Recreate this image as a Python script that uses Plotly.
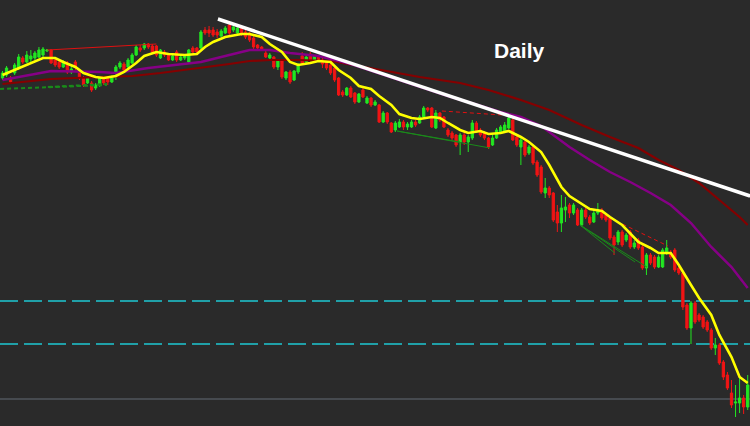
import plotly.graph_objects as go

# ---------------- data (price units) ----------------
idx = list(range(185))

opens = [
    348, 351, 348, 353, 358, 368, 364, 367, 368, 369,
    371, 375, 376, 366, 364, 359, 363, 354, 364, 354,
    348, 343, 343, 338, 341, 348, 348, 344, 353, 359,
    362, 359, 363, 371, 378, 378, 382, 380, 380, 368,
    374, 371, 366, 374, 366, 368, 364, 378, 378, 378,
    396, 396, 396, 394, 390, 393, 401, 396, 393, 398,
    394, 393, 388, 381, 379, 373, 368, 369, 359, 365,
    348, 354, 346, 354, 370, 364, 372, 366, 369, 366,
    364, 361, 358, 348, 334, 331, 338, 333, 324, 336,
    323, 328, 321, 321, 304, 313, 303, 296, 299, 304,
    299, 299, 304, 303, 309, 318, 318, 298, 313, 309,
    296, 293, 291, 284, 291, 284, 288, 303, 296, 293,
    288, 281, 288, 294, 294, 298, 306, 289, 279, 284,
    273, 279, 264, 259, 233, 238, 233, 214, 203, 216,
    221, 213, 216, 201, 216, 209, 204, 213, 216, 211,
    208, 189, 184, 194, 186, 194, 179, 186, 179, 158,
    171, 169, 159, 159, 173, 173, 176, 158, 153, 121,
    98, 123, 111, 109, 104, 96, 78, 81, 64, 51,
    33, 23, 23, 28, 19,
]
highs = [
    355, 360, 350, 363, 372, 370, 375, 376, 375, 379,
    379, 377, 377, 368, 366, 366, 365, 360, 366, 356,
    350, 349, 345, 343, 350, 350, 350, 351, 361, 365,
    364, 368, 373, 381, 381, 383, 383, 382, 381, 377,
    376, 373, 372, 376, 371, 372, 377, 380, 379, 396,
    399, 400, 399, 397, 397, 400, 402, 401, 400, 400,
    396, 394, 390, 382, 380, 375, 373, 370, 367, 366,
    355, 356, 356, 363, 374, 370, 374, 371, 370, 368,
    366, 363, 359, 349, 336, 339, 340, 334, 333, 338,
    330, 329, 326, 322, 315, 314, 304, 305, 307, 306,
    304, 306, 306, 311, 320, 319, 319, 316, 314, 310,
    298, 295, 292, 293, 294, 291, 306, 305, 298, 295,
    289, 291, 298, 301, 304, 310, 309, 290, 288, 285,
    281, 280, 266, 261, 248, 240, 234, 221, 231, 229,
    223, 223, 218, 218, 218, 211, 216, 223, 218, 213,
    210, 191, 196, 196, 193, 196, 186, 188, 181, 173,
    173, 171, 171, 178, 186, 176, 178, 160, 155, 123,
    125, 125, 113, 111, 106, 98, 88, 83, 66, 54,
    46, 41, 48, 31, 51,
]
lows = [
    346, 349, 342, 351, 356, 362, 363, 364, 366, 368,
    369, 374, 362, 359, 357, 358, 352, 352, 356, 346,
    339, 342, 334, 336, 339, 341, 341, 343, 346, 357,
    354, 358, 362, 370, 374, 376, 377, 372, 369, 367,
    369, 365, 365, 364, 365, 366, 363, 373, 372, 377,
    391, 389, 389, 388, 389, 392, 391, 394, 392, 390,
    387, 384, 377, 376, 375, 368, 366, 357, 356, 347,
    346, 342, 345, 352, 362, 362, 365, 364, 364, 358,
    356, 351, 344, 330, 329, 330, 328, 322, 323, 328,
    322, 319, 320, 303, 303, 302, 293, 294, 298, 296,
    296, 298, 299, 302, 308, 314, 298, 297, 304, 298,
    289, 286, 279, 271, 281, 274, 286, 293, 289, 286,
    277, 280, 287, 292, 293, 297, 285, 279, 261, 269,
    271, 261, 249, 232, 228, 228, 204, 194, 194, 204,
    208, 211, 200, 199, 207, 201, 203, 211, 206, 204,
    186, 171, 181, 179, 184, 177, 177, 176, 156, 151,
    161, 157, 158, 158, 171, 167, 154, 151, 116, 96,
    82, 102, 104, 97, 94, 76, 71, 61, 46, 36,
    18, 9, 13, 12, 16,
]
closes = [
    353, 358, 344, 361, 369, 364, 371, 370, 373, 376,
    377, 376, 363, 361, 359, 364, 354, 357, 359, 348,
    341, 348, 336, 341, 348, 343, 344, 349, 359, 363,
    356, 366, 371, 379, 376, 382, 379, 374, 371, 376,
    371, 366, 370, 366, 369, 370, 376, 374, 374, 394,
    393, 393, 391, 391, 395, 398, 393, 399, 398, 392,
    389, 386, 379, 378, 377, 369, 371, 359, 365, 349,
    354, 344, 355, 361, 363, 369, 366, 370, 366, 362,
    358, 353, 346, 331, 331, 338, 329, 324, 332, 329,
    328, 321, 324, 304, 313, 304, 294, 303, 304, 299,
    302, 304, 301, 309, 318, 316, 299, 313, 306, 299,
    291, 288, 281, 291, 284, 289, 303, 294, 291, 288,
    279, 288, 296, 299, 301, 308, 286, 281, 286, 271,
    279, 263, 251, 234, 238, 231, 206, 203, 218, 219,
    213, 221, 201, 216, 209, 203, 213, 216, 208, 206,
    188, 181, 194, 181, 191, 179, 183, 178, 158, 171,
    163, 159, 169, 176, 178, 169, 156, 153, 119, 98,
    123, 104, 106, 99, 96, 78, 81, 63, 49, 38,
    21, 24, 28, 19, 41,
]

# moving averages read at sample bars
fast_ma_x = [0, 3, 7, 10, 13, 15, 18, 20, 23, 25, 28, 30, 33, 35, 38, 41, 45, 48, 50, 52,
             55, 59, 61, 64, 66, 69, 71, 73, 76, 78, 81, 83, 86, 88, 91, 93, 96, 98, 101, 103,
             106, 108, 110, 113, 115, 118, 120, 123, 125, 128, 130, 133, 135, 138, 140, 143, 145, 148, 150, 153,
             155, 157, 160, 162, 165, 167, 170, 172, 175, 177, 180, 182, 184]
fast_ma_y = [351, 356, 363, 368, 368, 364, 359, 353, 349, 348, 350, 354, 363, 370, 374, 372, 371, 372, 379, 384,
             389, 392, 392, 389, 382, 374, 364, 361, 363, 365, 364, 356, 348, 340, 337, 330, 321, 312, 308, 307,
             309, 308, 303, 296, 293, 295, 292, 293, 295, 289, 284, 274, 261, 239, 230, 222, 217, 215, 209, 201,
             193, 184, 178, 173, 173, 161, 141, 128, 111, 91, 69, 49, 43]

mid_ma_x = [0, 12, 24, 28, 36, 49, 56, 61, 66, 71, 78, 86, 98, 110, 123, 128, 133, 136, 140, 145,
            150, 155, 160, 165, 170, 175, 180, 184]
mid_ma_y = [346, 355, 354, 353, 358, 364, 371, 376, 376, 373, 370, 362, 346, 330, 314, 309, 300, 291, 279, 266,
            254, 244, 233, 221, 203, 179, 159, 138]

slow_ma_x = [0, 12, 24, 32, 39, 49, 56, 61, 66, 73, 81, 88, 96, 103, 113, 120, 128, 135, 143, 150,
             157, 162, 167, 172, 177, 182, 184]
slow_ma_y = [342, 347, 349, 350, 353, 358, 362, 365, 366, 366, 365, 360, 354, 349, 343, 336, 326, 316, 301, 289,
             278, 266, 256, 243, 226, 209, 201]

# trendline and fractal lines
trend_x = [53.2, 184.6]
trend_y = [407, 230]

red_solid_x = [11, 38]
red_solid_y = [376, 382]
red_dash1_x = [108.5, 127]
red_dash1_y = [315, 310]
red_dash2_x = [150, 164.3]
red_dash2_y = [208, 180]

green_fan1 = [([97.4, 120.4], [295, 278]), ([97.4, 113], [295, 284])]
green_fan2 = [([142.6, 159.1], [201, 159]), ([142.6, 156.2], [201, 164]), ([142.6, 151.2], [201, 173])]
green_dash = [([-0.6, 25.8], [337, 341]), ([11.2, 25.8], [339, 342])]

levels_cyan = [125, 82]
level_gray = 27

title_text = "Daily"

# ---------------- figure ----------------
BG = "#2a2a2a"
GREEN = "#22e622"
RED = "#f01414"

fig = go.Figure()

fig.add_trace(go.Candlestick(
    x=idx, open=opens, high=highs, low=lows, close=closes,
    increasing=dict(line=dict(color=GREEN, width=1), fillcolor=GREEN),
    decreasing=dict(line=dict(color=RED, width=1), fillcolor=RED),
    whiskerwidth=0, hoverinfo="skip", showlegend=False,
))

def line(x, y, color, width, dash="solid"):
    fig.add_trace(go.Scatter(x=x, y=y, mode="lines", hoverinfo="skip", showlegend=False,
                             line=dict(color=color, width=width, dash=dash)))

for xs, ys in green_dash:
    line(xs, ys, "#1a8a1a", 2, "4px,3px")
for xs, ys in green_fan1 + green_fan2:
    line(xs, ys, "#1a8a1a", 1)
line(red_solid_x, red_solid_y, "#e01010", 1)
line(red_dash1_x, red_dash1_y, "#e01010", 1, "4px,3px")
line(red_dash2_x, red_dash2_y, "#e01010", 1, "4px,3px")

line(slow_ma_x, slow_ma_y, "#850000", 2.2)
line(mid_ma_x, mid_ma_y, "#860086", 2.5)
line(fast_ma_x, fast_ma_y, "#ffff00", 2.6)
line(trend_x, trend_y, "#ffffff", 3.5)

for lv in levels_cyan:
    fig.add_shape(type="line", xref="paper", x0=0, x1=1, yref="y", y0=lv, y1=lv,
                  line=dict(color="#1ec8d2", width=1.5, dash="18px,6px"), layer="below")
fig.add_shape(type="line", xref="paper", x0=0, x1=1, yref="y", y0=level_gray, y1=level_gray,
              line=dict(color="#50565c", width=1.5), layer="below")

fig.add_annotation(text="<b>%s</b>" % title_text, xref="paper", yref="paper",
                   x=519 / 750, y=1 - 51 / 426, xanchor="center", yanchor="middle", showarrow=False,
                   font=dict(family="Liberation Sans, Arial", size=21, color="#ffffff"))

fig.update_layout(
    width=750, height=426, margin=dict(l=0, r=0, t=0, b=0),
    paper_bgcolor=BG, plot_bgcolor=BG, showlegend=False, boxgap=0.2,
    xaxis=dict(visible=False, range=[-0.617, 184.57], rangeslider=dict(visible=False)),
    yaxis=dict(visible=False, range=[0, 426]),
)

fig.write_html("out.html", config={"displayModeBar": False},
               post_script="document.body.style.margin='0';document.body.style.background='%s';" % BG)
